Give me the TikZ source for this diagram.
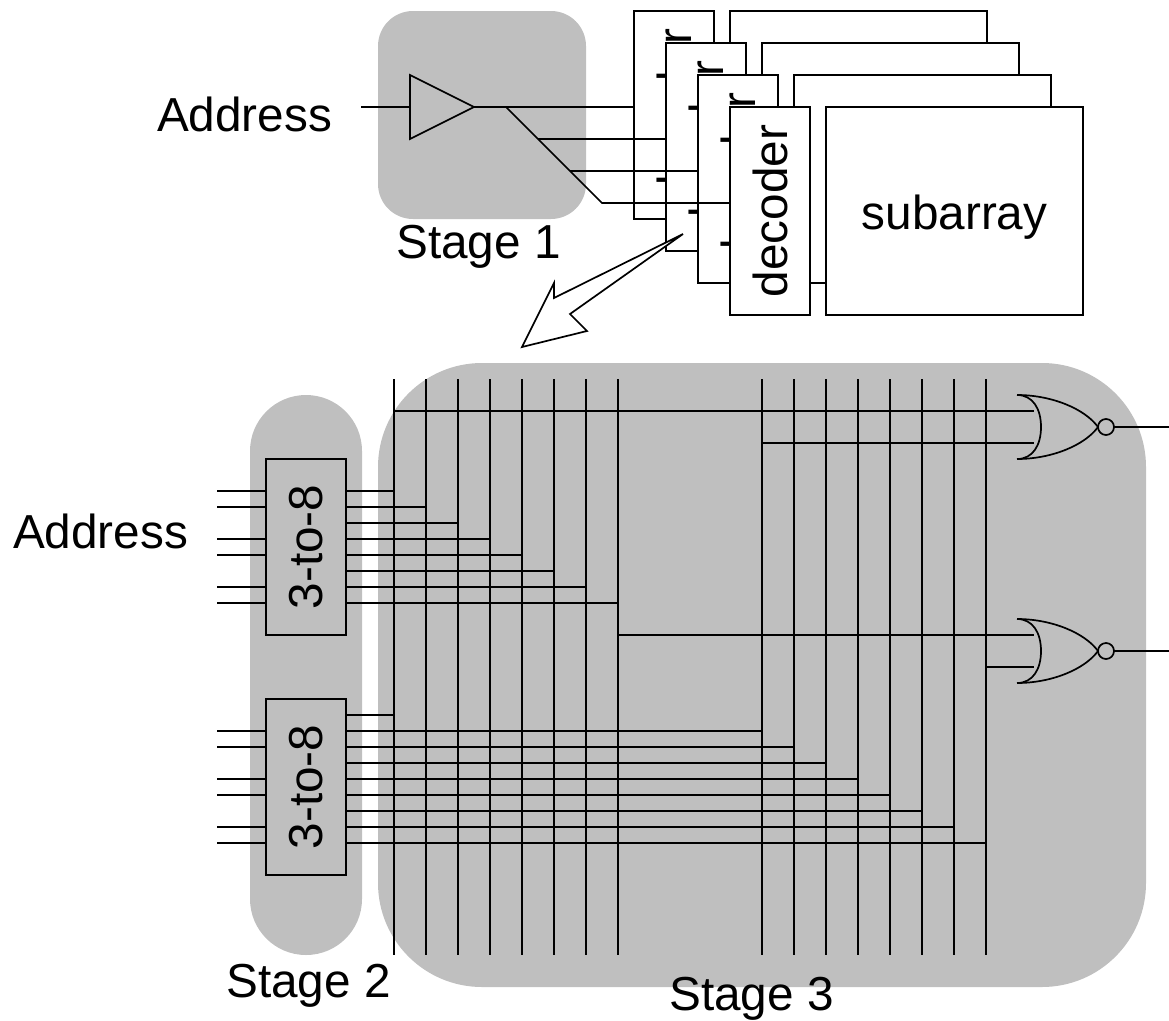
\documentclass[tikz,border=0pt]{standalone}
\usepackage{graphicx}
\usepackage{fontspec}
\setmainfont{Liberation Sans}
\usetikzlibrary{shapes.geometric, positioning}

\begin{document}
\begin{tikzpicture}[
  x=1pt, y=-1pt,
  line width=1.7pt,
  font=\fontsize{47.7}{57}\selectfont,
  stagebg/.style={rectangle, fill=black!25, draw=none, inner sep=0pt, outer sep=0pt},
  decbox/.style={rectangle, draw=black, fill=white, inner sep=0pt, outer sep=0pt, minimum width=80pt, minimum height=208pt, align=center},
  subbox/.style={rectangle, draw=black, fill=white, inner sep=0pt, outer sep=0pt, minimum width=257pt, minimum height=208pt, text height=36pt, text depth=0pt},
  predbox/.style={rectangle, draw=black, inner sep=0pt, outer sep=0pt, minimum width=80pt, minimum height=176pt},
  driver/.style={isosceles triangle, isosceles triangle stretches, draw=black, inner sep=0pt, outer sep=0pt, minimum width=64pt, minimum height=64pt},
  lbl/.style={anchor=base, inner sep=0pt},
  norgate/.pic={
    \draw (0,-32) .. controls (35,-32) and (68,-18) .. (81,0) .. controls (68,18) and (35,32) .. (0,32);
    \draw (0,-32) .. controls (16,-32) and (24,-18) .. (24,0) .. controls (24,18) and (16,32) .. (0,32);
    \node (-bub) [circle, draw=black, inner sep=0pt, outer sep=0pt, minimum size=16pt] at (89,0) {};
    \coordinate (-in1) at (17,-16);
    \coordinate (-in2) at (17,16);
  }
]
  \useasboundingbox (0,0) rectangle (1169,1020);

  % Stage backgrounds
  \node (stageone) [stagebg, rounded corners=35pt, minimum width=208pt, minimum height=208pt] at (482,115) {};
  \node (stagetwo) [stagebg, rounded corners=56pt, minimum width=112pt, minimum height=560pt] at (306,675) {};
  \node (stagethree) [stagebg, rounded corners=104pt, minimum width=768pt, minimum height=624pt] at (762,675) {};

  % Stacked decoders and subarrays
  \foreach \i/\px/\py/\subtext in {1/674/115/{}, 2/706/147/{}, 3/738/179/{}, 4/770/211/{subarray}} {
    \node (dec\i) [decbox] at (\px,\py) {\rotatebox{90}{decoder}};
    \node (sub\i) [subbox, right=16pt of dec\i] {\subtext};
  }

  % Stage 1 driver
  \coordinate (addrin) at (361,107);
  \node (drv) [driver, anchor=apex] at (474,107) {};
  \coordinate (tap1) at (506,107);
  \coordinate (tap2) at (538,139);
  \coordinate (tap3) at (570,171);
  \coordinate (tap4) at (602,203);
  \draw (addrin) -- (drv.lower side);
  \draw (drv.apex) -- (dec1.west |- drv.apex);
  \draw (tap1) -- (tap4) -- (dec4.west |- tap4);
  \draw (tap2) -- (dec2.west |- tap2);
  \draw (tap3) -- (dec3.west |- tap3);

  % Zoom arrow
  \coordinate (zoomtip) at (683,234);
  \filldraw [fill=white] (zoomtip) -- (554,298) -- (554,283) -- (522,347) -- (587,331) -- (570,314) -- cycle;

  % Predecoders
  \node (predA) [predbox] at (306,547) {\rotatebox{90}{3-to-8}};
  \node (predB) [predbox] at (306,787) {\rotatebox{90}{3-to-8}};
  \coordinate (inedge) at (217,0);
  \foreach \y in {491,507,539,555,587,603} {
    \draw (inedge |- 0,\y) -- (predA.west |- 0,\y);
  }
  \foreach \y in {731,747,779,795,827,843} {
    \draw (inedge |- 0,\y) -- (predB.west |- 0,\y);
  }

  % Bit lines
  \foreach \i/\x in {1/394,2/426,3/458,4/490,5/522,6/554,7/586,8/618,9/762,10/794,11/826,12/858,13/890,14/922,15/954,16/986} {
    \coordinate (v\i) at (\x,379);
    \coordinate (w\i) at (\x,955);
    \draw (v\i) -- (w\i);
  }
  \foreach \i/\y in {1/491,2/507,3/523,4/539,5/555,6/571,7/587,8/603} {
    \draw (predA.east |- 0,\y) -- (v\i |- 0,\y);
  }
  \foreach \i/\y in {1/715,9/731,10/747,11/763,12/779,13/795,14/811,15/827,16/843} {
    \draw (predB.east |- 0,\y) -- (v\i |- 0,\y);
  }

  % NOR gates
  \pic (norA) at (1017,427) {norgate};
  \pic (norB) at (1017,651) {norgate};
  \coordinate (outA) at (1169,427);
  \coordinate (outB) at (1169,651);
  \draw (norA-bub.east) -- (outA);
  \draw (norB-bub.east) -- (outB);
  \draw (v1 |- norA-in1) -- (norA-in1);
  \draw (v9 |- norA-in2) -- (norA-in2);
  \draw (v8 |- norB-in1) -- (norB-in1);
  \draw (v16 |- norB-in2) -- (norB-in2);

  % Labels
  \node (addrtop) [lbl] at (244.5,131) {Address};
  \node (addrlow) [lbl] at (100.5,548.5) {Address};
  \node (lblone) [lbl] at (478.5,258) {Stage 1};
  \node (lbltwo) [lbl] at (308.5,997.5) {Stage 2};
  \node (lblthree) [lbl] at (751.5,1010) {Stage 3};
\end{tikzpicture}
\end{document}
